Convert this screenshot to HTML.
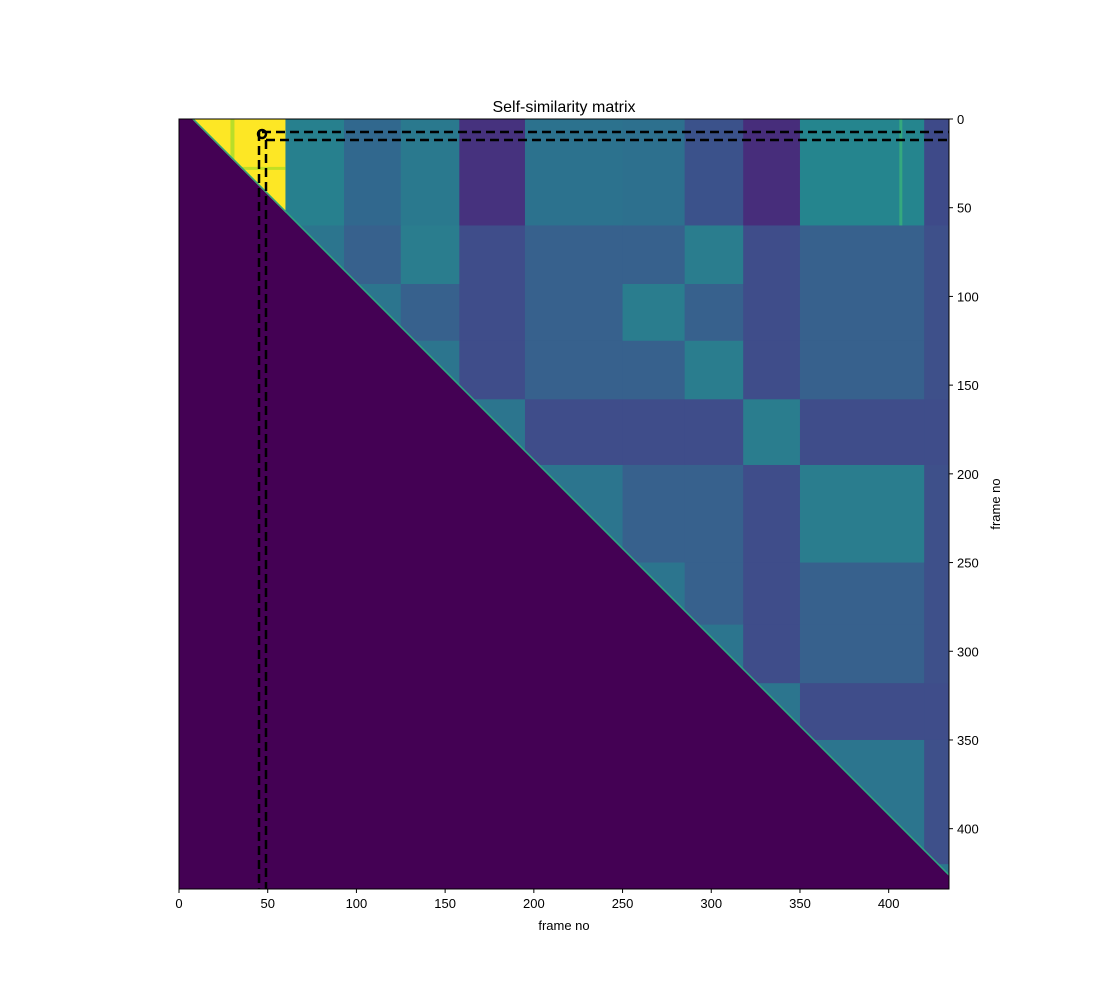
<!DOCTYPE html>
<html><head><meta charset="utf-8"><style>
html,body{margin:0;padding:0;background:#fff;}
svg{display:block;font-family:"Liberation Sans","DejaVu Sans",sans-serif;}
</style></head><body>
<svg id="s" width="1100" height="1000" xmlns="http://www.w3.org/2000/svg">
<defs><clipPath id="ut"><polygon points="192,119 949,119 949,876"/></clipPath></defs>
<rect x="179" y="119" width="770" height="770" fill="#440154"/>
<g id="m" clip-path="url(#ut)"></g>
<g id="ov"></g>
<text x="564" y="112" font-size="16" text-anchor="middle">Self-similarity matrix</text>
<text x="564" y="930" font-size="13" text-anchor="middle">frame no</text>
<text x="1000" y="504" font-size="13" text-anchor="middle" transform="rotate(-90 1000 504)">frame no</text>
</svg>
<script>
const S=1.7742,X0=179,Y0=119,NS="http://www.w3.org/2000/svg";
const m=document.getElementById('m'),ov=document.getElementById('ov');
function el(p,tag,a){const e=document.createElementNS(NS,tag);for(const k in a)e.setAttribute(k,a[k]);p.appendChild(e);return e;}
const B=[0,60,93,125,158,195,250,285,318,350,420,435];
const T=['A','X','Y','X','Z','W','Y','X','Z','W','V'];
const row0=['#fde725','#27808e','#31688e','#2a798e','#46327e','#2c728e','#2d708e','#3b528b','#472d7b','#25858e','#3e4a89'];
for(let i=0;i<B.length-1;i++)for(let j=i;j<B.length-1;j++){
 let c;
 if(i==0)c=row0[j];
 else if(i==j)c='#2c758e';
 else if(T[i]==T[j])c='#2a7d8e';
 else if(T[i]=='Z'||T[j]=='Z')c='#3f4d8a';
 else if(T[i]=='V'||T[j]=='V')c='#3e508a';
 else c='#37618d';
 el(m,'rect',{x:X0+B[j]*S,y:Y0+B[i]*S,width:(B[j+1]-B[j])*S+0.5,height:(B[i+1]-B[i])*S+0.5,fill:c});
}
el(m,'rect',{x:X0+29*S,y:Y0,width:4,height:60*S,fill:'#b8de29'});
el(m,'rect',{x:X0,y:Y0+27*S,width:60*S,height:3,fill:'#c2df23'});
el(m,'rect',{x:X0+406*S,y:Y0,width:3,height:60*S,fill:'#35a97e'});
el(m,'line',{x1:192,y1:119,x2:949,y2:876,stroke:'#2fa67f','stroke-width':3});
const d={stroke:'#000','stroke-width':2.5,'stroke-dasharray':'9,5',fill:'none'};
el(ov,'line',Object.assign({x1:259,y1:132,x2:259,y2:889},d));
el(ov,'line',Object.assign({x1:266,y1:140,x2:266,y2:889},d));
el(ov,'line',Object.assign({x1:262,y1:132,x2:949,y2:132},d));
el(ov,'line',Object.assign({x1:266,y1:140,x2:949,y2:140},d));
el(ov,'circle',{cx:262,cy:134,r:4,fill:'none',stroke:'#000','stroke-width':2.5});
el(ov,'rect',{x:179,y:119,width:770,height:770,fill:'none',stroke:'#000','stroke-width':1});
for(let v=0;v<=400;v+=50){
 const x=X0+v*S;el(ov,'line',{x1:x,y1:889,x2:x,y2:893,stroke:'#000'});
 el(ov,'text',{x:x,y:908,'font-size':13,'text-anchor':'middle'}).textContent=v;
 const y=Y0+v*S;el(ov,'line',{x1:949,y1:y,x2:953,y2:y,stroke:'#000'});
 el(ov,'text',{x:957,y:y+5,'font-size':13}).textContent=v;
}
</script>
</body></html>
